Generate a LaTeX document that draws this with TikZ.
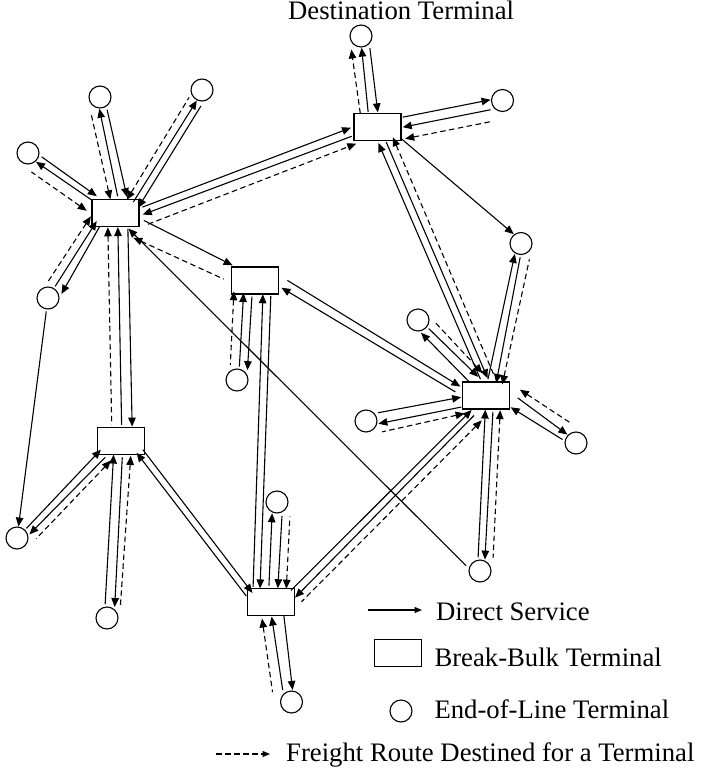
\documentclass[tikz,border=0pt]{standalone}
\usepackage{fontspec}
\setmainfont{Liberation Serif}
\usetikzlibrary{arrows.meta,calc}
\newcommand\conlink[5][]{%
  \path (#2) -- (#3) coordinate[pos=0] (cnS) coordinate[pos=1] (cnE);
  \draw[#1] ($(cnS)!#4pt!90:(cnE)$) -- ($(cnE)!#5pt!-90:(cnS)$);
}
\tikzset{
  >={Triangle[length=9pt,width=7.5pt]},
  bb/.style={draw, line width=1.2pt, minimum width=47pt, minimum height=27pt, inner sep=0pt, fill=white},
  eol/.style={draw, circle, line width=1.1pt, minimum size=22pt, inner sep=0pt},
  dsh/.style={dash pattern=on 5.5pt off 3.5pt},
  fs/.style={line width=1.1pt, ->, shorten <=2pt},
  bs/.style={line width=1.1pt, <-, shorten >=2pt},
  fd/.style={fs, dsh},
  bd/.style={bs, dsh},
  txt/.style={inner sep=0pt, anchor=base west, font=\fontsize{26.7}{30}\selectfont}
}
\begin{document}
\begin{tikzpicture}[x=1pt, y=-1pt]
\useasboundingbox (0,0) rectangle (703,776);
% break-bulk terminals
\node[bb] (B1) at (115.5,213) {};
\node[bb] (B2) at (377.5,127) {};
\node[bb] (B3) at (255,280.5) {};
\node[bb] (B4) at (486,395.5) {};
\node[bb] (B5) at (121,441) {};
\node[bb] (B6) at (271,602) {};
% end-of-line terminals
\node[eol] (D) at (361,36) {};
\node[eol] (C1) at (502.5,100.5) {};
\node[eol] (C2) at (521,243.5) {};
\node[eol] (C3) at (100,97) {};
\node[eol] (C4) at (202,90) {};
\node[eol] (C5) at (28,153) {};
\node[eol] (C6) at (48,298) {};
\node[eol] (C7) at (237,380) {};
\node[eol] (C8) at (418,320) {};
\node[eol] (C9) at (366,421) {};
\node[eol] (C10) at (576,443) {};
\node[eol] (C11) at (17,538) {};
\node[eol] (C12) at (107,618) {};
\node[eol] (C13) at (277,502) {};
\node[eol] (C14) at (480,571) {};
\node[eol] (C15) at (291.5,702) {};
% B2 - D
\conlink[fd]{B2}{D}{14.6}{11.9}
\conlink[fs]{B2}{D}{6.7}{1.5}
\conlink[bs]{B2}{D}{-2.9}{-6.7}
% B2 - C1
\conlink[fs]{B2}{C1}{4.4}{3.2}
\conlink[bs]{B2}{C1}{-5.4}{-6.6}
\conlink[bd]{B2}{C1}{-17.2}{-18.3}
% B2 -> C2
\conlink[fs]{B2}{C2}{6}{2.7}
% B1 - B2
\conlink[fs]{B1}{B2}{-2.9}{7.6}
\conlink[bs]{B1}{B2}{-10}{-0.7}
\conlink[fd]{B1}{B2}{-20.9}{-9.2}
% B1 - C3
\conlink[bd]{B1}{C3}{3.3}{11.4}
\conlink[fs]{B1}{C3}{-4.5}{2.2}
\conlink[bs]{B1}{C3}{-13.5}{-5.2}
% B1 - C4
\conlink[bd]{B1}{C4}{-1.6}{6.4}
\conlink[fs]{B1}{C4}{-8.4}{-1.8}
\conlink[bs]{B1}{C4}{-15.5}{-8.2}
% B1 - C5
\conlink[bs]{B1}{C5}{-3.3}{-4.6}
\conlink[fs]{B1}{C5}{2.8}{2.7}
\conlink[bd]{B1}{C5}{14.4}{13.7}
% B1 - C6
\conlink[bd]{B1}{C6}{-17.2}{-10.1}
\conlink[bs]{B1}{C6}{-9.7}{-1.4}
\conlink[fs]{B1}{C6}{-4.4}{8}
% B1 - B5
\conlink[bd]{B1}{B5}{-8}{-8.9}
\conlink[bs]{B1}{B5}{2}{1}
\conlink[fs]{B1}{B5}{12}{11.5}
% B1 - B3
\conlink[fs]{B1}{B3}{5.7}{3.9}
\conlink[bd]{B1}{B3}{-14.5}{-12.3}
% C14 -> B1
\conlink[bs]{B1}{C14}{-2.1}{-6}
% B2 - B4
\conlink[bs]{B2}{B4}{-5.1}{1}
\conlink[fs]{B2}{B4}{2.4}{8}
\conlink[bd]{B2}{B4}{10.4}{15}
% B4 - C2
\conlink[fs]{B4}{C2}{1.7}{3.7}
\conlink[bs]{B4}{C2}{-7.1}{-2.2}
\conlink[bd]{B4}{C2}{-13.4}{-11.7}
% B4 - C8
\conlink[fs]{B4}{C8}{3.2}{6.3}
\conlink[bs]{B4}{C8}{-6.7}{-2.1}
\conlink[bd]{B4}{C8}{-12.4}{-11.1}
% B4 - C9
\conlink[bs]{B4}{C9}{-3.5}{-5.6}
\conlink[fs]{B4}{C9}{6.2}{5.2}
\conlink[bd]{B4}{C9}{13.1}{14}
% B4 - C10
\conlink[bd]{B4}{C10}{21}{14.9}
\conlink[fs]{B4}{C10}{13}{3.4}
\conlink[bs]{B4}{C10}{1.1}{-3.4}
% B4 - C14
\conlink[bs]{B4}{C14}{-0.2}{-2.4}
\conlink[fs]{B4}{C14}{7.5}{4.5}
\conlink[bd]{B4}{C14}{14.7}{12.6}
% B4 - B6
\conlink[bs]{B4}{B6}{0.5}{5.5}
\conlink[fs]{B4}{B6}{6}{13.5}
\conlink[bd]{B4}{B6}{15}{21}
% B3 - B4
\conlink[fs]{B3}{B4}{14.7}{-3.4}
\conlink[bs]{B3}{B4}{5.3}{-10.6}
% B3 - C7
\conlink[bd]{B3}{C7}{-18.8}{-9}
\conlink[bs]{B3}{C7}{-9}{0.2}
\conlink[fs]{B3}{C7}{-0.4}{8.5}
% B3 - B6
\conlink[bs]{B3}{B6}{7.2}{-17.3}
\conlink[fs]{B3}{B6}{15.2}{-10.3}
% B6 - C13
\conlink[fs]{B6}{C13}{3}{4.2}
\conlink[bs]{B6}{C13}{-6}{-5.8}
\conlink[bd]{B6}{C13}{-14.5}{-13.7}
% B6 - C15
\conlink[bd]{B6}{C15}{-12.1}{-16.7}
\conlink[bs]{B6}{C15}{-2.3}{-6.3}
\conlink[fs]{B6}{C15}{10}{3.5}
% B5 - B6
\conlink[fs]{B5}{B6}{10.3}{-7.4}
\conlink[bs]{B5}{B6}{3.4}{-14.2}
% B5 - C11
\conlink[bs]{B5}{C11}{-7.4}{-0.5}
\conlink[fs]{B5}{C11}{1.1}{5.8}
\conlink[bd]{B5}{C11}{7.4}{13.7}
% B5 - C12
\conlink[bs]{B5}{C12}{-6.3}{-2.9}
\conlink[fs]{B5}{C12}{2.5}{6.8}
\conlink[bd]{B5}{C12}{10.9}{12.4}
% C6 -> C11
\conlink[fs]{C6}{C11}{0}{0}
% titles and legend
\node[txt] (tDest) at (288,20) {Destination Terminal};
\coordinate (lgA1) at (368,610);
\coordinate (lgA2) at (422,610);
\draw[line width=1.1pt, -{Triangle[length=7.5pt,width=6pt]}] (lgA1) -- (lgA2);
\node[txt] (tDS) at (436,620) {Direct Service};
\node[bb] (lgB) at (398,653) {};
\node[txt] (tBB) at (434.3,666) {Break-Bulk Terminal};
\node[eol] (lgC) at (401,711) {};
\node[txt] (tEOL) at (434.3,718.3) {End-of-Line Terminal};
\coordinate (lgD1) at (216,754);
\coordinate (lgD2) at (270,754);
\draw[line width=1.1pt, dsh, -{Triangle[length=7.5pt,width=6pt]}] (lgD1) -- (lgD2);
\node[txt] (tFR) at (286,761.7) {Freight Route Destined for a Terminal};
\end{tikzpicture}
\end{document}
